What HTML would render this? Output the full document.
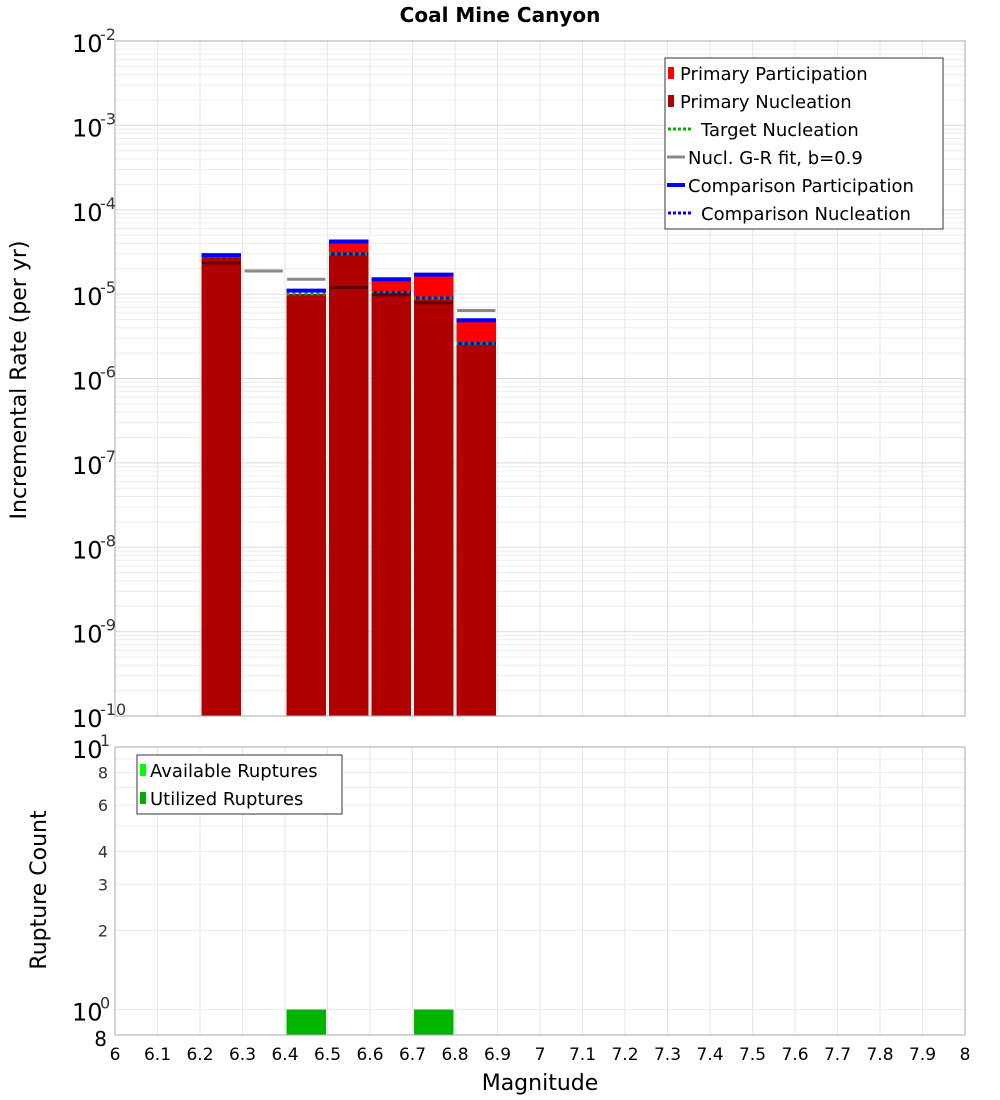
<!DOCTYPE html>
<html><head><meta charset="utf-8"><style>
body{margin:0;background:#fff;}
svg{display:block;font-family:"DejaVu Sans","Liberation Sans",sans-serif;}
</style></head><body>
<svg id="c" width="1000" height="1100"></svg>
<script>
const mags=[6.25,6.45,6.55,6.65,6.75,6.85];
const primaryPart=[2.8e-5,1.0e-5,4.0e-5,1.44e-5,1.65e-5,4.8e-6];
const primaryNucl=[2.8e-5,1.0e-5,3.1e-5,1.0e-5,8.5e-6,2.6e-6];
const targetNucl=[2.8e-5,1.0e-5,3.0e-5,1.05e-5,9e-6,2.6e-6];
const compPart=[2.9e-5,1.1e-5,4.2e-5,1.5e-5,1.7e-5,4.9e-6];
const compNucl=[2.9e-5,null,3.0e-5,1.05e-5,9e-6,2.6e-6];
const grMags=[6.25,6.35,6.45,6.55,6.65,6.75,6.85];
const grFit=[2.35e-5,1.88e-5,1.5e-5,1.2e-5,9.8e-6,7.9e-6,6.4e-6];
const ruptMags=[6.45,6.75];
const utilized=[1,1];
const xTicks=[6,6.1,6.2,6.3,6.4,6.5,6.6,6.7,6.8,6.9,7,7.1,7.2,7.3,7.4,7.5,7.6,7.7,7.8,7.9,8];
const yExps=[-10,-9,-8,-7,-6,-5,-4,-3,-2];
const y2Ticks=[2,3,4,6,8];

const NS="http://www.w3.org/2000/svg",svg=document.getElementById('c');
function el(t,a,p){const e=document.createElementNS(NS,t);for(const k in a)e.setAttribute(k,a[k]);(p||svg).appendChild(e);return e;}
const L=115,R=965,T1=41,B1=716,T2=747,B2=1035;
const X=m=>L+(m-6)/2*(R-L);
const Y1=v=>T1+(-2-Math.log10(v))/8*(B1-T1);
const Y2=v=>T2+(1-Math.log10(v))/(1-Math.log10(0.8))*(B2-T2);
const bw=(R-L)/20;

// title
let t=el('text',{x:500,y:22,'text-anchor':'middle','font-size':20,'font-weight':'bold'});t.textContent='Coal Mine Canyon';


// grids
const g=el('g',{});
for(const m of xTicks){el('line',{x1:X(m),x2:X(m),y1:T1,y2:B1,stroke:'#e6e6e6'},g);el('line',{x1:X(m),x2:X(m),y1:T2,y2:B2,stroke:'#e6e6e6'},g);}
for(let e=-10;e<-2;e++)for(let k=1;k<10;k++){const y=Y1(k*Math.pow(10,e));el('line',{x1:L,x2:R,y1:y,y2:y,stroke:k==1?'#dcdcdc':'#ececec'},g);}
for(let k=1;k<=10;k++){const y=Y2(k);el('line',{x1:L,x2:R,y1:y,y2:y,stroke:'#ececec'},g);}

// bars
for(let i=0;i<mags.length;i++){
 const x=X(mags[i]-0.05)+1.5,w=bw-3;
 let r=el('rect',{x:x,y:Y1(primaryPart[i]),width:w,height:B1-Y1(primaryPart[i]),fill:'#ff0000'});
 
 r=el('rect',{x:x,y:Y1(primaryNucl[i]),width:w,height:B1-Y1(primaryNucl[i]),fill:'#b00000'});
 
}
for(let i=0;i<mags.length;i++){
 const x1=X(mags[i]-0.05)+1.5,x2=X(mags[i]+0.05)-1.5;
 let l=el('line',{x1:x1,x2:x2,y1:Y1(targetNucl[i]),y2:Y1(targetNucl[i]),stroke:'#00b000','stroke-width':3,'stroke-dasharray':'3,3'});
 
}
for(let i=0;i<grMags.length;i++){
 const x1=X(grMags[i]-0.045),x2=X(grMags[i]+0.045);
 const inBar=mags.indexOf(grMags[i])>=0&&primaryNucl[mags.indexOf(grMags[i])]>grFit[i];
 let l=el('line',{x1:x1,x2:x2,y1:Y1(grFit[i]),y2:Y1(grFit[i]),stroke:inBar?'#600000':'#888','stroke-width':3});
 
}
for(let i=0;i<mags.length;i++){
 const x1=X(mags[i]-0.05)+1.5,x2=X(mags[i]+0.05)-1.5;
 let l=el('line',{x1:x1,x2:x2,y1:Y1(compPart[i]),y2:Y1(compPart[i]),stroke:'#0000ff','stroke-width':4});
 
 if(compNucl[i]!=null){
 l=el('line',{x1:x1+2,x2:x2,y1:Y1(compNucl[i]),y2:Y1(compNucl[i]),stroke:'#0000ff','stroke-width':3,'stroke-dasharray':'3,3'});
 }
}
for(let i=0;i<ruptMags.length;i++){
 const x=X(ruptMags[i]-0.05)+1.5;
 let r=el('rect',{x:x,y:Y2(utilized[i]),width:bw-3,height:B2-Y2(utilized[i]),fill:'#00b400'});
 
}

// frames
el('rect',{x:L,y:T1,width:R-L,height:B1-T1,fill:'none',stroke:'#aaa'});
el('rect',{x:L,y:T2,width:R-L,height:B2-T2,fill:'none',stroke:'#aaa'});

// y ticks top
for(const e of yExps){const y=Y1(Math.pow(10,e));
 let tx=el('text',{x:72,y:y+11,'font-size':24});tx.textContent='10';
 
 let s=el('text',{x:100,y:y-1,'font-size':16,fill:'#333'});s.textContent=String(e);}
// y ticks bottom
let tt=el('text',{x:72,y:T2+11,'font-size':24});tt.textContent='10';
el('text',{x:100,y:T2-1,'font-size':16,fill:'#333'}).textContent='1';
tt=el('text',{x:72,y:Y2(1)+11,'font-size':24});tt.textContent='10';
el('text',{x:100,y:Y2(1)-1,'font-size':16,fill:'#333'}).textContent='0';
for(const v of y2Ticks){let tx=el('text',{x:108,y:Y2(v)+6,'font-size':16,'text-anchor':'end',fill:'#333'});tx.textContent=v;
 }
el('text',{x:107,y:B2+11,'font-size':20,'text-anchor':'end'}).textContent='8';
// x ticks
for(const m of xTicks){let tx=el('text',{x:X(m),y:1060,'font-size':17,'text-anchor':'middle'});tx.textContent=String(m);
 }
t=el('text',{x:540,y:1090,'font-size':22,'text-anchor':'middle'});t.textContent='Magnitude';

t=el('text',{x:0,y:0,'font-size':22,'text-anchor':'middle',transform:'translate(26,380) rotate(-90)'});t.textContent='Incremental Rate (per yr)';

t=el('text',{x:0,y:0,'font-size':22,'text-anchor':'middle',transform:'translate(46,890) rotate(-90)'});t.textContent='Rupture Count';


// legend top
const lg=el('g',{});
el('rect',{x:665,y:58,width:278,height:171,fill:'#fff',stroke:'#333'},lg);
const items=[['Primary Participation','sq','#ff0000',680],['Primary Nucleation','sq','#b00000',680],['Target Nucleation','dot','#00b000',701],['Nucl. G-R fit, b=0.9','line','#888',688],['Comparison Participation','line','#0000ff',688],['Comparison Nucleation','dot','#0000ff',701]];
items.forEach((it,i)=>{const y=73+i*28;
 if(it[1]=='sq')el('rect',{x:668,y:y-6,width:6,height:12,fill:it[2]},lg);
 else if(it[1]=='dot')el('line',{x1:668,x2:693,y1:y,y2:y,stroke:it[2],'stroke-width':3,'stroke-dasharray':'3,2'},lg);
 else el('line',{x1:667,x2:685,y1:y,y2:y,stroke:it[2],'stroke-width':it[2]=='#888'?3:4},lg);
 let tx=el('text',{x:it[3],y:y+7,'font-size':18},lg);tx.textContent=it[0];
 });
// legend bottom
const lg2=el('g',{});
el('rect',{x:137,y:755,width:205,height:59,fill:'#fff',stroke:'#333'},lg2);
[['Available Ruptures','#00ff00'],['Utilized Ruptures','#00b000']].forEach((it,i)=>{const y=770+i*28;
 el('rect',{x:140,y:y-6,width:6,height:12,fill:it[1]},lg2);
 let tx=el('text',{x:150,y:y+7,'font-size':18},lg2);tx.textContent=it[0];
 });
</script>
</body></html>
